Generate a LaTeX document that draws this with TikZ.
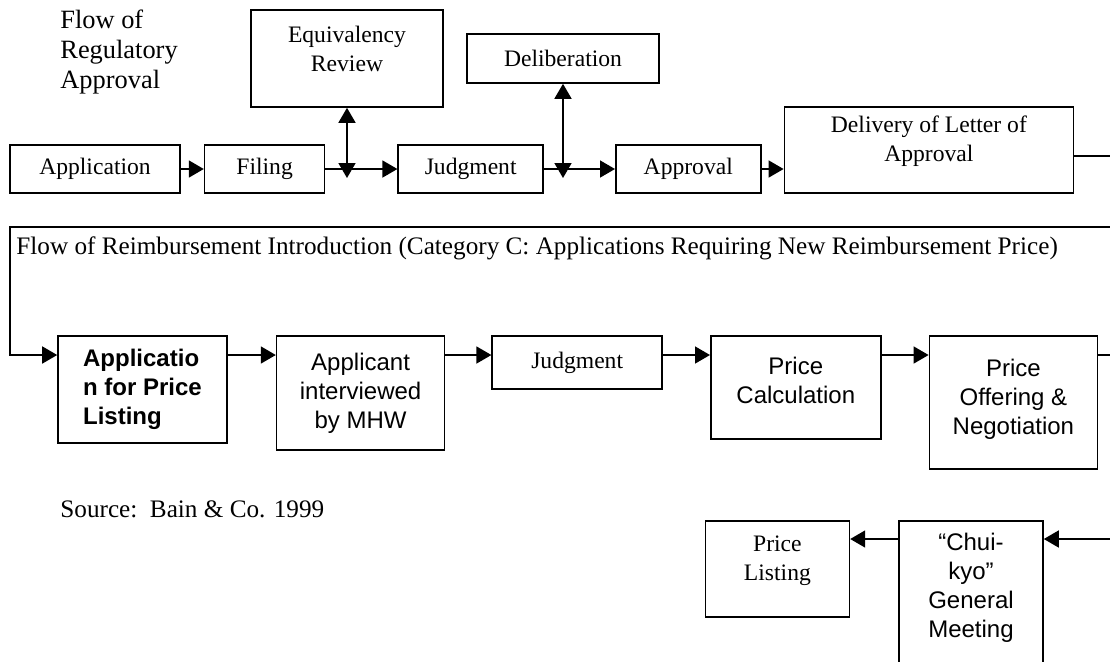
\documentclass[tikz,border=0pt]{standalone}
\usepackage{fontspec}
\setmainfont{Liberation Serif}
\setsansfont{Liberation Sans}
\usetikzlibrary{arrows.meta, positioning}
\tikzset{
  box/.style={rectangle,draw,line width=0.8pt,align=center,inner sep=2pt,font=\fontsize{11.8}{14.5}\selectfont},
  sbox/.style={box,font=\sffamily\fontsize{12}{14.5}\selectfont},
  lifted/.style={text depth=#1},
  note/.style={align=left,inner sep=0pt,font=\fontsize{12.6}{15}\selectfont},
  line/.style={line width=0.8pt,-{Triangle[length=7.5pt,width=8.5pt]}},
  both/.style={line width=0.8pt,{Triangle[length=7.5pt,width=8.5pt]}-{Triangle[length=7.5pt,width=8.5pt]}}
}

\begin{document}
\begin{tikzpicture}[x=1pt,y=1pt]
\useasboundingbox (0,0) rectangle (555,-330.5);

% regulatory approval
\node[note, font=\fontsize{13.2}{15}\selectfont, anchor=north west] (regtitle) at (30,-5) {Flow of\\Regulatory\\Approval};
\node[box, minimum width=85pt, minimum height=24pt] (app) at (47.5,-84.5) {Application};
\node[box, minimum width=60pt, minimum height=24pt, right=11.5pt of app] (filing) {Filing};
\node[box, minimum width=72.5pt, minimum height=24pt, right=36pt of filing] (judg) {Judgment};
\node[box, minimum width=72.5pt, minimum height=24pt, right=35.5pt of judg] (apprv) {Approval};
\node[box, minimum width=144.5pt, minimum height=43pt, lifted=11.5pt,
      right=11pt of apprv.south east, anchor=south west] (letter) {Delivery of Letter of\\Approval};
\node[box, minimum width=96pt, minimum height=48.5pt, lifted=9.5pt] (equiv) at (173.5,-29.25) {Equivalency\\Review};
\node[box, minimum width=96pt, minimum height=24.5pt] (delib) at (281.5,-29.25) {Deliberation};
\coordinate (eqfoot) at (173.5,-89);
\coordinate (dlfoot) at (281.5,-89);

\draw[line] (app) -- (filing);
\draw[line] (filing) -- (judg);
\draw[line] (judg) -- (apprv);
\draw[line] (apprv) -- (apprv -| letter.west);
\draw[both] (equiv.south) -- (eqfoot);
\draw[both] (delib.south) -- (dlfoot);

% reimbursement introduction
\node[note, anchor=base west] (reimbtitle) at (8,-127) {Flow of Reimbursement Introduction (Category C: Applications Requiring New Reimbursement Price)};
\coordinate (r2) at (0,-177.5);
\coordinate (turn) at (5,-113.5);
\node[sbox, font=\sffamily\bfseries\fontsize{12}{14.5}\selectfont, align=left,
      minimum width=84.5pt, minimum height=53.5pt] (apppr) at (71.25,-194.75) {Applicatio\\n for Price\\Listing};
\node[sbox, minimum width=84pt, minimum height=57pt, lifted=2.5pt,
      right=24pt of apppr.north east, anchor=north west] (interv) {Applicant\\interviewed\\by MHW};
\node[box, minimum width=85pt, minimum height=26.5pt,
      right=23pt of interv.north east, anchor=north west] (judg2) {Judgment};
\node[sbox, minimum width=85pt, minimum height=51.5pt, lifted=7.5pt,
      right=23.5pt of judg2.north east, anchor=north west] (pcalc) {Price\\Calculation};
\node[sbox, minimum width=84pt, minimum height=66.5pt, lifted=6pt,
      right=23.5pt of pcalc.north east, anchor=north west] (poffer) {Price\\Offering \&\\Negotiation};

\draw[line] ([yshift=-3pt]letter.east) -- (558,-78) |- (turn) |- (apppr.west |- r2);
\draw[line] (apppr.east |- r2) -- (interv.west |- r2);
\draw[line] (interv.east |- r2) -- (judg2.west |- r2);
\draw[line] (judg2.east |- r2) -- (pcalc.west |- r2);
\draw[line] (pcalc.east |- r2) -- (poffer.west |- r2);

\node[note, anchor=base west] (source) at (30,-258.5) {Source:\ \ Bain \& Co. 1999};

% listing
\coordinate (r3) at (0,-269.5);
\node[sbox, minimum width=72pt, minimum height=80pt, lifted=15.5pt] (chui) at (485.5,-300.5) {“Chui-\\kyo”\\General\\Meeting};
\node[box, minimum width=72pt, minimum height=48pt, lifted=10.5pt,
      left=24pt of chui.north west, anchor=north east] (plist) {Price\\Listing};

\draw[line] (poffer.east |- r2) -- (558,-177.5) |- (chui.east |- r3);
\draw[line] (chui.west |- r3) -- (plist.east |- r3);
\end{tikzpicture}
\end{document}
